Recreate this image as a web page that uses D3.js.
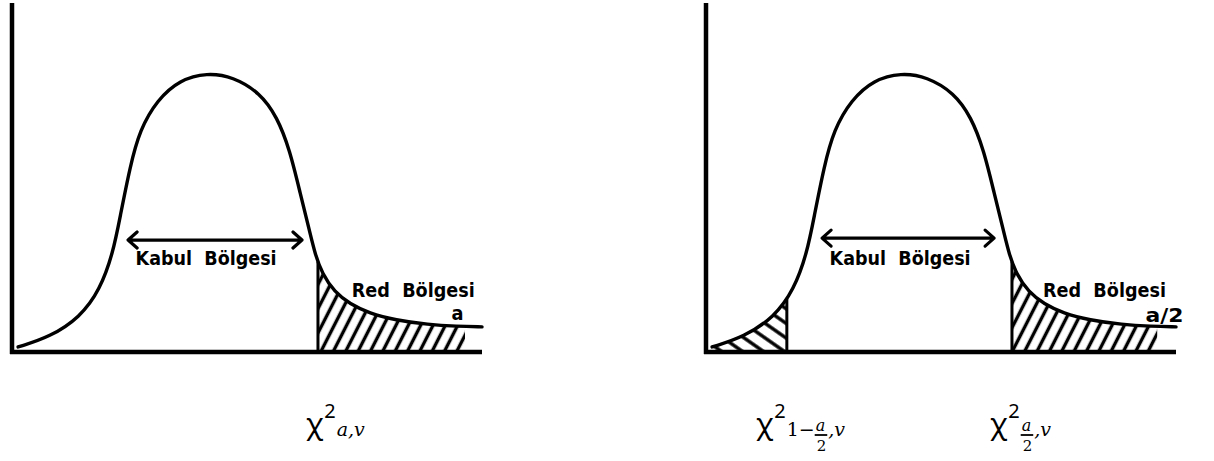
<!DOCTYPE html>
<html><head><meta charset="utf-8">
<script src="https://cdn.jsdelivr.net/npm/d3@7"></script>
<style>html,body{margin:0;padding:0;background:#fff;} svg{display:block} text{white-space:pre}</style>
</head><body><svg id="c" width="1214" height="461"></svg>
<script>
// ---- data (x in 0..100 units, density in % of peak) ----
const curveX = [1.3, 8.1, 14.5, 18.7, 21.5, 23.0, 25.1, 27.2, 30.9, 35.7, 41.5, 47.0, 52.8, 56.4, 59.1, 61.3, 63.4, 64.5, 66.0, 68.6, 71.9, 76.0, 81.6, 88.5, 94.7, 100];
const curveY = [1.8, 5.4, 12.5, 22.2, 35.5, 48.4, 66.3, 79.6, 90.3, 97.5, 100, 98.6, 92.8, 84.2, 72.4, 57.0, 42.7, 35.0, 28.0, 21.5, 17.2, 13.9, 11.4, 9.8, 9.2, 9.0];
const panelNames = ["tek", "cift"];
const lowerCut = [null, 17.2];
const upperCut = [65.1, 65.1];
const hatchEnd = [96.4, 96.0];
const acceptLabel = ["Kabul  Bölgesi", "Kabul  Bölgesi"];
const rejectLabel = ["Red  Bölgesi", "Red  Bölgesi"];
const alphaLabel = ["a", "a/2"];
const arrowFrom = [24.7, 24.7], arrowTo = [61.7, 61.3], arrowY = [40.1, 40.8];
// bottom critical value labels: subscript pieces ("frac:" = stacked fraction)
const critLabels = [
  ["a,v"],
  ["1−", "frac:a/2", ",v"],
  ["frac:a/2", ",v"]
];

// ---- layout ----
const W = 1214, H = 461;
const panelLeft = [12, 706], panelWidth = 470;
const yTop = 3, yBase = 352;
const critX = [306, 756, 990];
const svg = d3.select("#c");
const pts = curveX.map((x, i) => [x, curveY[i]]);
const curve = d3.curveBasis;

const defs = svg.append("defs");
function pattern(id, w, rot, sw) {
  const p = defs.append("pattern").attr("id", id).attr("patternUnits", "userSpaceOnUse")
    .attr("width", w).attr("height", w).attr("patternTransform", `rotate(${rot})`);
  p.append("line").attr("x1", w/2).attr("x2", w/2).attr("y1", -1).attr("y2", w+1)
    .attr("stroke", "#000").attr("stroke-width", sw);
}
pattern("hatchR", 11, 27, 3.4);
pattern("hatchL", 12, -55, 3.4);

panelNames.forEach((name, pi) => {
  const x = d3.scaleLinear().domain([0, 100]).range([panelLeft[pi], panelLeft[pi] + panelWidth]);
  const y = d3.scaleLinear().domain([0, 125]).range([yBase, yTop]);
  const g = svg.append("g").attr("class", "panel-" + name);

  const area = d3.area().x(d => x(d[0])).y0(y(0)).y1(d => y(d[1])).curve(curve);
  const line = d3.line().x(d => x(d[0])).y(d => y(d[1])).curve(curve);

  const tmp = g.append("path").attr("d", line(pts)).attr("fill", "none").attr("stroke", "none");
  const node = tmp.node(), L = node.getTotalLength();
  function yAt(xv) {
    const px = x(xv); let lo = 0, hi = L;
    for (let k = 0; k < 40; k++) { const m = (lo + hi) / 2; if (node.getPointAtLength(m).x < px) lo = m; else hi = m; }
    return node.getPointAtLength(lo).y;
  }
  tmp.remove();

  const regions = [];
  if (lowerCut[pi] != null) regions.push([curveX[0], lowerCut[pi], "hatchL"]);
  regions.push([upperCut[pi], hatchEnd[pi], "hatchR"]);
  regions.forEach((r, ri) => {
    const cid = `clip-${name}-${ri}`;
    defs.append("clipPath").attr("id", cid).append("rect")
      .attr("x", x(r[0])).attr("width", x(r[1]) - x(r[0])).attr("y", 0).attr("height", H);
    g.append("g").attr("clip-path", `url(#${cid})`).append("path")
      .attr("d", area(pts)).attr("fill", `url(#${r[2]})`);
  });

  [lowerCut[pi], upperCut[pi]].filter(c => c != null).forEach(c => {
    g.append("line").attr("x1", x(c)).attr("x2", x(c)).attr("y1", y(0)).attr("y2", yAt(c))
      .attr("stroke", "#000").attr("stroke-width", 3);
  });

  g.append("path").attr("d", line(pts)).attr("fill", "none").attr("stroke", "#000")
    .attr("stroke-width", 3.4).attr("stroke-linecap", "round");

  g.append("line").attr("x1", x(0)).attr("x2", x(0)).attr("y1", y(125)).attr("y2", y(0) + 2)
    .attr("stroke", "#000").attr("stroke-width", 4.5);
  g.append("line").attr("x1", x(0) - 2).attr("x2", x(100)).attr("y1", y(0)).attr("y2", y(0))
    .attr("stroke", "#000").attr("stroke-width", 4.5);

  const ax0 = x(arrowFrom[pi]), ax1 = x(arrowTo[pi]), ay = y(arrowY[pi]);
  g.append("path")
    .attr("d", `M${ax0 + 9},${ay - 8} L${ax0},${ay} L${ax0 + 9},${ay + 8} M${ax0},${ay} L${ax1},${ay} M${ax1 - 9},${ay - 8} L${ax1},${ay} L${ax1 - 9},${ay + 8}`)
    .attr("fill", "none").attr("stroke", "#000").attr("stroke-width", 3.2)
    .attr("stroke-linecap", "round").attr("stroke-linejoin", "round");

  const lab = (t, xv, yv, len) => {
    const e = g.append("text").attr("x", x(xv)).attr("y", y(yv)).text(t)
      .attr("font-family", "'DejaVu Sans', sans-serif").attr("font-weight", "bold")
      .attr("font-size", 20).attr("fill", "#000");
    if (len) e.attr("textLength", len).attr("lengthAdjust", "spacingAndGlyphs");
    return e;
  };
  lab(acceptLabel[pi], 26.3, 31.2, 141);
  lab(rejectLabel[pi], pi === 0 ? 72.3 : 71.7, 19.7, 123);
  lab(alphaLabel[pi], 93.5, pi === 0 ? 11.5 : 10.9, pi === 0 ? 12 : 38);
});

// bottom labels
critLabels.forEach((parts, li) => {
  const g = svg.append("g").attr("class", "crit");
  let cx = critX[li];
  const base = 434;
  const chi = g.append("text").attr("x", cx).attr("y", base).text("χ")
    .attr("font-family", "'Noto Sans', sans-serif").attr("font-size", 29).attr("fill", "#000");
  cx += chi.node().getComputedTextLength() + 1;
  const sup = g.append("text").attr("x", cx).attr("y", base - 16).text("2")
    .attr("font-family", "'Noto Sans', sans-serif").attr("font-size", 20).attr("fill", "#000");
  cx += sup.node().getComputedTextLength() + 1;
  const it = sel => sel.attr("font-family", "'DejaVu Serif', serif").attr("font-style", "italic").attr("fill", "#000");
  parts.forEach(p => {
    if (p.startsWith("frac:")) {
      const [n, d] = p.slice(5).split("/");
      const tn = it(g.append("text")).attr("x", cx + 1).attr("y", base - 3).attr("font-size", 16).text(n);
      const td = g.append("text").attr("x", cx + 2).attr("y", base + 17).attr("font-size", 15)
        .attr("font-family", "'DejaVu Serif', serif").attr("fill", "#000").text(d);
      const w = Math.max(tn.node().getComputedTextLength(), td.node().getComputedTextLength()) + 3;
      g.append("line").attr("x1", cx).attr("x2", cx + w).attr("y1", base + 1).attr("y2", base + 1)
        .attr("stroke", "#000").attr("stroke-width", 1.8);
      cx += w + 1;
    } else {
      const t = it(g.append("text")).attr("x", cx).attr("y", base + 2).attr("font-size", 19).text(p);
      if (p === "1−") t.attr("font-style", "normal");
      cx += t.node().getComputedTextLength();
    }
  });
});
</script></body></html>
